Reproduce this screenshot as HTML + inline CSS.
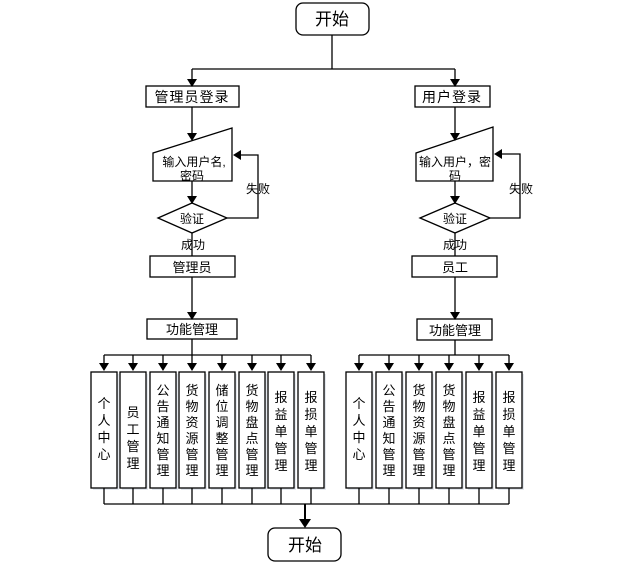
<!DOCTYPE html>
<html><head><meta charset="utf-8"><style>
html,body{margin:0;padding:0;background:#fff;}
svg{display:block;}
text{font-family:"Liberation Sans","Noto Sans CJK SC",sans-serif;fill:#000;}
</style></head><body>
<svg width="635" height="570" viewBox="0 0 635 570" xmlns="http://www.w3.org/2000/svg">
<g fill="#e4e8ee">
<rect x="93" y="374" width="26" height="116"/><rect x="122" y="374" width="26" height="116"/><rect x="152" y="374" width="26" height="116"/><rect x="181" y="374" width="26" height="116"/><rect x="211" y="374" width="26" height="116"/><rect x="241" y="374" width="26" height="116"/><rect x="270" y="374" width="26" height="116"/><rect x="300" y="374" width="26" height="116"/>
<rect x="348" y="374" width="26" height="116"/><rect x="378" y="374" width="26" height="116"/><rect x="408" y="374" width="26" height="116"/><rect x="438" y="374" width="26" height="116"/><rect x="468" y="374" width="26" height="116"/><rect x="498" y="374" width="26" height="116"/>
</g>
<g stroke="#000" stroke-width="1.3" fill="none">
<rect x="296" y="3" width="73" height="32" rx="7" fill="#fff"/>
<path d="M332,35 V69 M192,69 H455 M192,69 V79 M455,69 V79"/>
<rect x="146" y="86" width="93" height="21"/>
<rect x="415" y="86" width="75" height="21"/>
<path d="M192,107 V133"/>
<path d="M153,153 L232,128 V181 H153 Z"/>
<path d="M192,181 V196"/>
<path d="M158,218 L192,203 L227,218 L192,233 Z"/>
<path d="M227,218 H258 V155 H240"/>
<path d="M192,233 V256"/>
<rect x="150" y="256" width="85" height="21"/>
<path d="M192,277 V312"/>
<rect x="147" y="319" width="90" height="20"/>
<path d="M192,339 V355 M104,355 H311"/>
<path d="M455,107 V133"/>
<path d="M416,153 L493,127 V181 H416 Z"/>
<path d="M455,181 V196"/>
<path d="M420,218 L455,203 L490,218 L455,233 Z"/>
<path d="M490,218 H520 V154 H501"/>
<path d="M455,233 V256"/>
<rect x="412" y="256" width="85" height="21"/>
<path d="M455,277 V312"/>
<rect x="417" y="319" width="75" height="21"/>
<path d="M455,340 V355 M359,355 H509"/>
<path d="M104,504 H509"/>
<path d="M305,504 V520" stroke-width="2"/>
<rect x="268" y="528" width="73" height="33" rx="7" fill="#fff"/>
<g fill="#fff">
<rect x="91" y="372" width="26" height="116"/><rect x="120" y="372" width="26" height="116"/><rect x="150" y="372" width="26" height="116"/><rect x="179" y="372" width="26" height="116"/><rect x="209" y="372" width="26" height="116"/><rect x="239" y="372" width="26" height="116"/><rect x="268" y="372" width="26" height="116"/><rect x="298" y="372" width="26" height="116"/>
<rect x="346" y="372" width="26" height="116"/><rect x="376" y="372" width="26" height="116"/><rect x="406" y="372" width="26" height="116"/><rect x="436" y="372" width="26" height="116"/><rect x="466" y="372" width="26" height="116"/><rect x="496" y="372" width="26" height="116"/>
</g>
<path d="M104,355V364M133,355V364M163,355V364M192,355V364M222,355V364M252,355V364M281,355V364M311,355V364M359,355V364M389,355V364M419,355V364M449,355V364M479,355V364M509,355V364"/>
<path d="M104,488V504M133,488V504M163,488V504M192,488V504M222,488V504M252,488V504M281,488V504M311,488V504M359,488V504M389,488V504M419,488V504M449,488V504M479,488V504M509,488V504"/>
</g>
<g fill="#000">
<polygon points="187,79 197,79 192,87"/><polygon points="450,79 460,79 455,87"/>
<polygon points="187,133 197,133 192,141"/><polygon points="450,133 460,133 455,141"/>
<polygon points="187,196 197,196 192,204"/><polygon points="450,196 460,196 455,204"/>
<polygon points="187,312 197,312 192,320"/><polygon points="450,312 460,312 455,320"/>
<polygon points="241,150 241,160 233,155"/><polygon points="502,149 502,159 494,154"/>
<polygon points="299,519 311,519 305,528"/>
<polygon points="99,363 109,363 104,371"/><polygon points="128,363 138,363 133,371"/><polygon points="158,363 168,363 163,371"/><polygon points="187,363 197,363 192,371"/><polygon points="217,363 227,363 222,371"/><polygon points="247,363 257,363 252,371"/><polygon points="276,363 286,363 281,371"/><polygon points="306,363 316,363 311,371"/>
<polygon points="354,363 364,363 359,371"/><polygon points="384,363 394,363 389,371"/><polygon points="414,363 424,363 419,371"/><polygon points="444,363 454,363 449,371"/><polygon points="474,363 484,363 479,371"/><polygon points="504,363 514,363 509,371"/>
</g>
<g font-size="13" text-anchor="middle">
<text x="332" y="25" font-size="17">开始</text>
<text x="305" y="551" font-size="17">开始</text>
<text x="192" y="102" font-size="14" letter-spacing="1">管理员登录</text>
<text x="452" y="102" font-size="14" letter-spacing="1">用户登录</text>
<text x="194" y="166" font-size="12">输入用户名,</text>
<text x="192" y="180" font-size="12">密码</text>
<text x="455" y="166" font-size="12">输入用户，密</text>
<text x="455" y="180" font-size="12">码</text>
<text x="192" y="223" font-size="12">验证</text>
<text x="455" y="223" font-size="12">验证</text>
<text x="258" y="193" font-size="12">失败</text>
<text x="521" y="193" font-size="12">失败</text>
<text x="193" y="249" font-size="12">成功</text>
<text x="455" y="249" font-size="12">成功</text>
<text x="192" y="272">管理员</text>
<text x="455" y="272">员工</text>
<text x="192" y="334">功能管理</text>
<text x="455" y="335">功能管理</text>
</g>
<g font-size="13" text-anchor="middle">
<text x="104"><tspan x="104" y="408">个</tspan><tspan x="104" y="425">人</tspan><tspan x="104" y="442">中</tspan><tspan x="104" y="459">心</tspan></text>
<text x="133"><tspan x="133" y="417">员</tspan><tspan x="133" y="434">工</tspan><tspan x="133" y="451">管</tspan><tspan x="133" y="468">理</tspan></text>
<text x="163"><tspan x="163" y="395">公</tspan><tspan x="163" y="411">告</tspan><tspan x="163" y="427">通</tspan><tspan x="163" y="443">知</tspan><tspan x="163" y="459">管</tspan><tspan x="163" y="475">理</tspan></text>
<text x="192"><tspan x="192" y="395">货</tspan><tspan x="192" y="411">物</tspan><tspan x="192" y="427">资</tspan><tspan x="192" y="443">源</tspan><tspan x="192" y="459">管</tspan><tspan x="192" y="475">理</tspan></text>
<text x="222"><tspan x="222" y="395">储</tspan><tspan x="222" y="411">位</tspan><tspan x="222" y="427">调</tspan><tspan x="222" y="443">整</tspan><tspan x="222" y="459">管</tspan><tspan x="222" y="475">理</tspan></text>
<text x="252"><tspan x="252" y="395">货</tspan><tspan x="252" y="411">物</tspan><tspan x="252" y="427">盘</tspan><tspan x="252" y="443">点</tspan><tspan x="252" y="459">管</tspan><tspan x="252" y="475">理</tspan></text>
<text x="281"><tspan x="281" y="402">报</tspan><tspan x="281" y="419">益</tspan><tspan x="281" y="436">单</tspan><tspan x="281" y="453">管</tspan><tspan x="281" y="470">理</tspan></text>
<text x="311"><tspan x="311" y="402">报</tspan><tspan x="311" y="419">损</tspan><tspan x="311" y="436">单</tspan><tspan x="311" y="453">管</tspan><tspan x="311" y="470">理</tspan></text>
<text x="359"><tspan x="359" y="408">个</tspan><tspan x="359" y="425">人</tspan><tspan x="359" y="442">中</tspan><tspan x="359" y="459">心</tspan></text>
<text x="389"><tspan x="389" y="395">公</tspan><tspan x="389" y="411">告</tspan><tspan x="389" y="427">通</tspan><tspan x="389" y="443">知</tspan><tspan x="389" y="459">管</tspan><tspan x="389" y="475">理</tspan></text>
<text x="419"><tspan x="419" y="395">货</tspan><tspan x="419" y="411">物</tspan><tspan x="419" y="427">资</tspan><tspan x="419" y="443">源</tspan><tspan x="419" y="459">管</tspan><tspan x="419" y="475">理</tspan></text>
<text x="449"><tspan x="449" y="395">货</tspan><tspan x="449" y="411">物</tspan><tspan x="449" y="427">盘</tspan><tspan x="449" y="443">点</tspan><tspan x="449" y="459">管</tspan><tspan x="449" y="475">理</tspan></text>
<text x="479"><tspan x="479" y="402">报</tspan><tspan x="479" y="419">益</tspan><tspan x="479" y="436">单</tspan><tspan x="479" y="453">管</tspan><tspan x="479" y="470">理</tspan></text>
<text x="509"><tspan x="509" y="402">报</tspan><tspan x="509" y="419">损</tspan><tspan x="509" y="436">单</tspan><tspan x="509" y="453">管</tspan><tspan x="509" y="470">理</tspan></text>
</g>
</svg>
</body></html>
